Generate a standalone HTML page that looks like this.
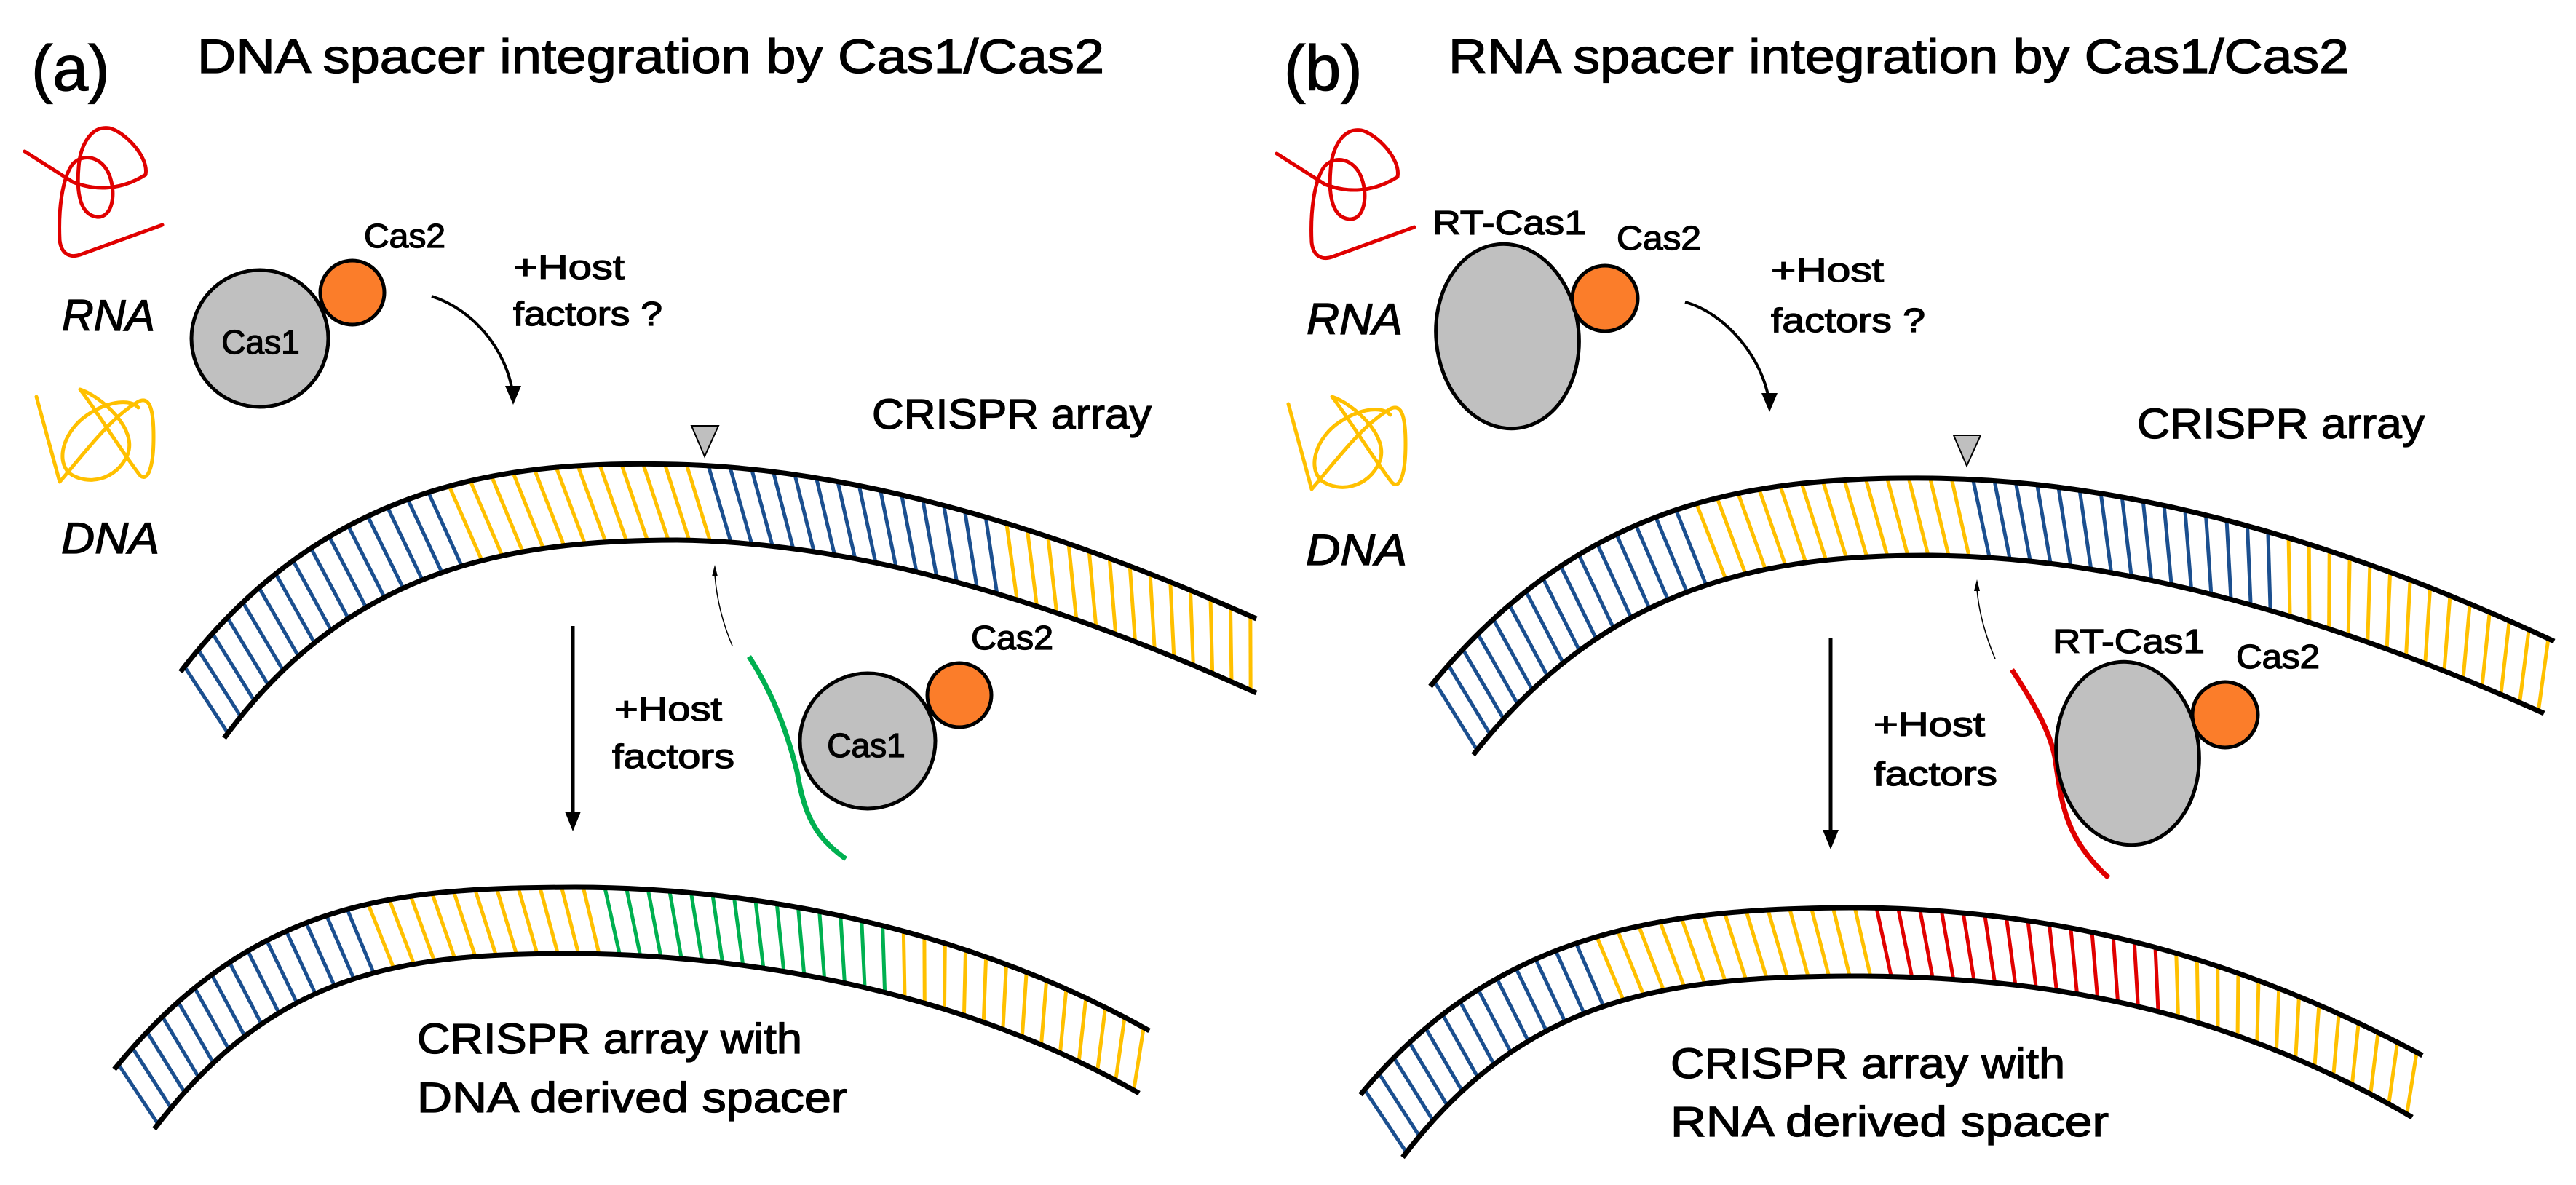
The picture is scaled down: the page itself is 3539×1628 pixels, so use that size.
<!DOCTYPE html>
<html><head><meta charset="utf-8">
<style>
html,body{margin:0;padding:0;background:#fff;}
svg{display:block;}
text{font-family:"Liberation Sans",sans-serif;fill:#000;stroke:#000;stroke-width:1.3px;}
</style></head>
<body>
<svg id="s" width="3539" height="1628" viewBox="0 0 3539 1628" xmlns="http://www.w3.org/2000/svg">
<rect width="3539" height="1628" fill="#fff"/>
<g id="stripes"></g>

<!-- ===== Panel A ===== -->
<text x="43" y="124" font-size="88">(a)</text>
<text x="271" y="100" font-size="66" textLength="1246" lengthAdjust="spacingAndGlyphs">DNA spacer integration by Cas1/Cas2</text>

<path d="M34,208 L100,250 C130,262 165,262 200,240 C205,215 170,180 150,176 C125,172 110,200 108,230 C105,265 110,295 133,298 C155,300 160,265 150,240 C140,215 115,210 100,225 C85,245 80,290 82,330 C84,348 95,355 110,350 L223,309" fill="none" stroke="#e00000" stroke-width="5" stroke-linecap="round" stroke-linejoin="round"/>
<text x="85" y="454" font-size="60" font-style="italic" textLength="128" lengthAdjust="spacingAndGlyphs">RNA</text>
<path d="M50,545 L82,662 C110,630 150,575 188,553 C208,540 211,570 211,600 C211,650 200,665 190,650 C160,610 130,560 110,535 C140,545 190,590 175,625 C160,660 120,668 95,650 C75,630 90,590 120,570 C150,550 180,548 190,560" fill="none" stroke="#ffc000" stroke-width="5" stroke-linecap="round" stroke-linejoin="round"/>
<text x="84" y="760" font-size="60" font-style="italic" textLength="135" lengthAdjust="spacingAndGlyphs">DNA</text>

<circle cx="357" cy="465" r="94" fill="#c0c0c0" stroke="#000" stroke-width="5"/>
<circle cx="484" cy="402" r="44" fill="#fb7d2a" stroke="#000" stroke-width="5"/>
<text x="358" y="486" font-size="46" text-anchor="middle">Cas1</text>
<text x="500" y="340" font-size="46" textLength="112" lengthAdjust="spacingAndGlyphs">Cas2</text>
<text x="705" y="383" font-size="46" textLength="153" lengthAdjust="spacingAndGlyphs">+Host</text>
<text x="705" y="447" font-size="46" textLength="205" lengthAdjust="spacingAndGlyphs">factors ?</text>
<path d="M593,407 C650,425 695,480 704,538" fill="none" stroke="#000" stroke-width="4"/>
<polygon points="694,530 716,530 705,556" fill="#000"/>

<text x="1198" y="589" font-size="58" textLength="384" lengthAdjust="spacingAndGlyphs">CRISPR array</text>
<polygon points="950,585 987,585 968,627" fill="#bfbfbf" stroke="#000" stroke-width="2"/>

<path id="a1o" d="M248,923 C450,660 700,632 930,638 C1200,645 1480,740 1726,850" fill="none" stroke="#000" stroke-width="7"/>
<path id="a1i" d="M308,1014 C480,780 700,742 930,742 C1200,745 1480,840 1726,952" fill="none" stroke="#000" stroke-width="7"/>

<line x1="787" y1="860" x2="787" y2="1120" stroke="#000" stroke-width="5"/>
<polygon points="776,1115 798,1115 787,1142" fill="#000"/>
<text x="844" y="990" font-size="46" textLength="148" lengthAdjust="spacingAndGlyphs">+Host</text>
<text x="841" y="1055" font-size="46" textLength="168" lengthAdjust="spacingAndGlyphs">factors</text>

<path d="M1006,887 Q986,840 982,790" fill="none" stroke="#000" stroke-width="1.5"/>
<polygon points="978,792 986,792 982,776" fill="#000"/>
<path d="M1029,902 C1060,950 1080,1000 1095,1060 C1105,1120 1120,1150 1162,1180" fill="none" stroke="#00b050" stroke-width="7"/>
<circle cx="1192" cy="1018" r="93" fill="#c0c0c0" stroke="#000" stroke-width="5"/>
<circle cx="1318" cy="955" r="44" fill="#fb7d2a" stroke="#000" stroke-width="5"/>
<text x="1190" y="1040" font-size="46" text-anchor="middle">Cas1</text>
<text x="1334" y="892" font-size="46" textLength="113" lengthAdjust="spacingAndGlyphs">Cas2</text>

<path id="a2o" d="M157,1469 C350,1232 550,1220 790,1219 C1000,1219 1300,1260 1579,1416" fill="none" stroke="#000" stroke-width="7"/>
<path id="a2i" d="M212,1551 C380,1330 560,1310 790,1310 C1000,1312 1300,1350 1565,1502" fill="none" stroke="#000" stroke-width="7"/>
<text x="573" y="1447" font-size="58" textLength="529" lengthAdjust="spacingAndGlyphs">CRISPR array with</text>
<text x="573" y="1528" font-size="58" textLength="591" lengthAdjust="spacingAndGlyphs">DNA derived spacer</text>

<!-- ===== Panel B ===== -->
<text x="1764" y="124" font-size="88">(b)</text>
<text x="1990" y="100" font-size="66" textLength="1237" lengthAdjust="spacingAndGlyphs">RNA spacer integration by Cas1/Cas2</text>

<g transform="translate(1720,3)">
<path d="M34,208 L100,250 C130,262 165,262 200,240 C205,215 170,180 150,176 C125,172 110,200 108,230 C105,265 110,295 133,298 C155,300 160,265 150,240 C140,215 115,210 100,225 C85,245 80,290 82,330 C84,348 95,355 110,350 L223,309" fill="none" stroke="#e00000" stroke-width="5" stroke-linecap="round" stroke-linejoin="round"/>
</g>
<text x="1795" y="459" font-size="60" font-style="italic" textLength="132" lengthAdjust="spacingAndGlyphs">RNA</text>
<g transform="translate(1720,10)">
<path d="M50,545 L82,662 C110,630 150,575 188,553 C208,540 211,570 211,600 C211,650 200,665 190,650 C160,610 130,560 110,535 C140,545 190,590 175,625 C160,660 120,668 95,650 C75,630 90,590 120,570 C150,550 180,548 190,560" fill="none" stroke="#ffc000" stroke-width="5" stroke-linecap="round" stroke-linejoin="round"/>
</g>
<text x="1794" y="776" font-size="60" font-style="italic" textLength="139" lengthAdjust="spacingAndGlyphs">DNA</text>

<ellipse cx="2071" cy="462" rx="98" ry="127" transform="rotate(-6 2071 462)" fill="#c0c0c0" stroke="#000" stroke-width="5"/>
<circle cx="2205" cy="410" r="45" fill="#fb7d2a" stroke="#000" stroke-width="5"/>
<text x="1968" y="322" font-size="46" textLength="211" lengthAdjust="spacingAndGlyphs">RT-Cas1</text>
<text x="2221" y="343" font-size="46" textLength="116" lengthAdjust="spacingAndGlyphs">Cas2</text>
<text x="2433" y="387" font-size="46" textLength="155" lengthAdjust="spacingAndGlyphs">+Host</text>
<text x="2433" y="456" font-size="46" textLength="212" lengthAdjust="spacingAndGlyphs">factors ?</text>
<path d="M2315,415 C2370,430 2420,490 2430,548" fill="none" stroke="#000" stroke-width="4"/>
<polygon points="2420,540 2442,540 2431,566" fill="#000"/>

<text x="2936" y="602" font-size="58" textLength="395" lengthAdjust="spacingAndGlyphs">CRISPR array</text>
<polygon points="2684,598 2721,598 2702,640" fill="#bfbfbf" stroke="#000" stroke-width="2"/>

<path id="b1o" d="M1965,943 C2180,680 2420,655 2654,657 C2950,660 3250,760 3509,881" fill="none" stroke="#000" stroke-width="7"/>
<path id="b1i" d="M2024,1037 C2210,800 2430,762 2654,763 C2950,766 3250,870 3495,980" fill="none" stroke="#000" stroke-width="7"/>

<line x1="2515" y1="877" x2="2515" y2="1145" stroke="#000" stroke-width="5"/>
<polygon points="2504,1140 2526,1140 2515,1167" fill="#000"/>
<text x="2574" y="1011" font-size="46" textLength="153" lengthAdjust="spacingAndGlyphs">+Host</text>
<text x="2574" y="1079" font-size="46" textLength="170" lengthAdjust="spacingAndGlyphs">factors</text>

<path d="M2741,905 Q2720,855 2716,810" fill="none" stroke="#000" stroke-width="1.5"/>
<polygon points="2712,812 2720,812 2716,796" fill="#000"/>
<path d="M2764,920 C2790,960 2815,1000 2823,1040 C2832,1100 2835,1150 2897,1206" fill="none" stroke="#e00000" stroke-width="7"/>
<ellipse cx="2923" cy="1035" rx="98" ry="126" transform="rotate(-6 2923 1035)" fill="#c0c0c0" stroke="#000" stroke-width="5"/>
<circle cx="3057" cy="982" r="45" fill="#fb7d2a" stroke="#000" stroke-width="5"/>
<text x="2820" y="897" font-size="46" textLength="209" lengthAdjust="spacingAndGlyphs">RT-Cas1</text>
<text x="3072" y="918" font-size="46" textLength="115" lengthAdjust="spacingAndGlyphs">Cas2</text>

<path id="b2o" d="M1869,1504 C2060,1272 2300,1247 2560,1247 C2800,1250 3050,1300 3328,1450" fill="none" stroke="#000" stroke-width="7"/>
<path id="b2i" d="M1927,1590 C2100,1362 2300,1341 2560,1341 C2800,1343 3050,1380 3314,1535" fill="none" stroke="#000" stroke-width="7"/>
<text x="2295" y="1481" font-size="58" textLength="542" lengthAdjust="spacingAndGlyphs">CRISPR array with</text>
<text x="2295" y="1561" font-size="58" textLength="602" lengthAdjust="spacingAndGlyphs">RNA derived spacer</text>
</svg>
<script>
(function(){
var B="#1b4f8f",Y="#ffc000",G="#00b050",R="#e00000";
var g=document.getElementById("stripes");
function band(o,i,segs){
  var po=document.getElementById(o),pi=document.getElementById(i);
  var lo=po.getTotalLength(),li=pi.getTotalLength();
  var n=Math.round(lo/30);
  for(var k=0;k<=n;k++){
    var t=(k+0.3)/(n+0.6);
    var a=po.getPointAtLength(t*lo),b=pi.getPointAtLength(t*li);
    var c=segs[segs.length-1][1];
    for(var s=0;s<segs.length;s++){if(a.x<segs[s][0]){c=segs[s][1];break;}}
    var l=document.createElementNS("http://www.w3.org/2000/svg","line");
    l.setAttribute("x1",a.x);l.setAttribute("y1",a.y);
    l.setAttribute("x2",b.x);l.setAttribute("y2",b.y);
    l.setAttribute("stroke",c);l.setAttribute("stroke-width","5");
    g.appendChild(l);
  }
}
band("a1o","a1i",[[592,B],[967,Y],[1376,B],[9999,Y]]);
band("a2o","a2i",[[482,B],[824,Y],[1224,G],[9999,Y]]);
band("b1o","b1i",[[2312,B],[2700,Y],[3117,B],[9999,Y]]);
band("b2o","b2i",[[2190,B],[2552,Y],[2962,R],[9999,Y]]);
})();
</script>
</body></html>
